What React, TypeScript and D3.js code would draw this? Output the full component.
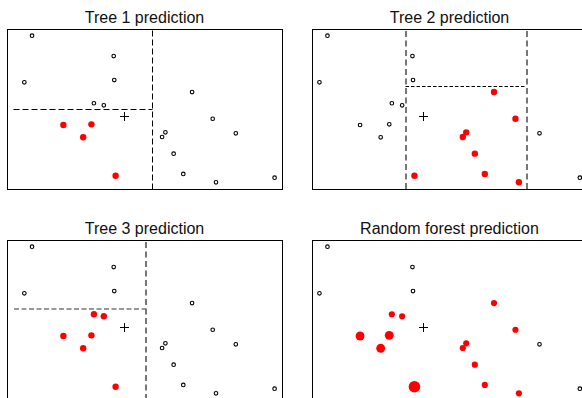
import React, { useEffect, useRef } from "react";
import * as d3 from "d3";

// training points (x, y)
const pointX = [0.91, 3.88, 0.63, 3.9, 3.16, 3.52, 6.73, 2.05, 3.07, 2.77, 3.95, 7.48, 8.32, 5.76, 5.64, 6.06, 6.41, 7.6, 9.73];
const pointY = [9.58, 8.31, 6.67, 6.81, 5.36, 5.23, 6.06, 4.0, 4.04, 3.23, 0.83, 4.39, 3.48, 3.54, 3.25, 2.21, 0.94, 0.42, 0.71];

// 1 = predicted as the red class by that tree
const tree1Class = [0, 0, 0, 0, 0, 0, 0, 1, 1, 1, 1, 0, 0, 0, 0, 0, 0, 0, 0];
const tree2Class = [0, 0, 0, 0, 0, 0, 1, 0, 0, 0, 1, 1, 0, 1, 1, 1, 1, 1, 0];
const tree3Class = [0, 0, 0, 0, 1, 1, 0, 1, 1, 1, 1, 0, 0, 0, 0, 0, 0, 0, 0];

// the query point (+)
const queryPoint = { x: 4.27, y: 4.56 };

// split segments of each tree, in data units ("kind" picks the line style)
const tree1Splits = [
  { x1: 5.28, y1: 0, x2: 5.28, y2: 10, kind: "black" },
  { x1: 0.25, y1: 4.94, x2: 5.28, y2: 4.94, kind: "black" },
];
const tree2Splits = [
  { x1: 3.65, y1: 0, x2: 3.65, y2: 10, kind: "grey" },
  { x1: 7.88, y1: 0, x2: 7.88, y2: 10, kind: "grey" },
  { x1: 3.65, y1: 6.39, x2: 7.88, y2: 6.39, kind: "fine" },
];
const tree3Splits = [
  { x1: 5.04, y1: 0, x2: 5.04, y2: 10, kind: "grey" },
  { x1: 0.25, y1: 5.67, x2: 5.04, y2: 5.67, kind: "greyThin" },
];

const titles = ["Tree 1 prediction", "Tree 2 prediction", "Tree 3 prediction", "Random forest prediction"];

const lineStyles: Record<string, { color: string; width: number; dash: string }> = {
  black: { color: "#000", width: 1, dash: "6,3" },
  fine: { color: "#000", width: 1, dash: "3.5,2" },
  grey: { color: "#777", width: 2, dash: "6,3.5" },
  greyThin: { color: "#777", width: 1.7, dash: "5,2.5" },
};

const App = () => {
  const ref = useRef<SVGSVGElement>(null);

  useEffect(() => {
    document.body.style.margin = "0";
    const svg = d3.select(ref.current);
    svg.selectAll("*").remove();

    const leftX = d3.scaleLinear().domain([0, 10]).range([7, 282]);
    const rightX = d3.scaleLinear().domain([0.37, 9.98]).range([312, 587]);
    const topY = d3.scaleLinear().domain([0, 10]).range([189, 29]);
    const bottomY = d3.scaleLinear().domain([0, 10]).range([400, 240]);

    const votes = pointX.map((_, i) => tree1Class[i] + tree2Class[i] + tree3Class[i]);
    const size = d3.scaleLinear().domain([1, 3]).range([3.1, 5.8]);

    const panels = [
      { title: titles[0], x: leftX, y: topY, cls: tree1Class, splits: tree1Splits, forest: false },
      { title: titles[1], x: rightX, y: topY, cls: tree2Class, splits: tree2Splits, forest: false },
      { title: titles[2], x: leftX, y: bottomY, cls: tree3Class, splits: tree3Splits, forest: false },
      { title: titles[3], x: rightX, y: bottomY, cls: votes, splits: [], forest: true },
    ];

    // snap a coordinate so a line of the given width lands on whole pixels
    const snap = (v: number, w: number) => (Math.round(w) % 2 === 1 ? Math.round(v - 0.5) + 0.5 : Math.round(v));

    panels.forEach((p) => {
      const g = svg.append("g");
      const [x0, x1] = p.x.range();
      const [yb, yt] = p.y.range();

      g.append("text")
        .attr("x", (x0 + x1) / 2)
        .attr("y", yt - 6.5)
        .attr("text-anchor", "middle")
        .attr("font-family", "Liberation Sans, Arial, sans-serif")
        .attr("font-size", 16)
        .attr("fill", "#111")
        .text(p.title);

      // split lines
      g.selectAll(".split")
        .data(p.splits)
        .enter()
        .append("line")
        .attr("x1", (d) => snap(p.x(d.x1), lineStyles[d.kind].width))
        .attr("x2", (d) => snap(p.x(d.x2), lineStyles[d.kind].width))
        .attr("y1", (d) => snap(p.y(d.y1), lineStyles[d.kind].width))
        .attr("y2", (d) => snap(p.y(d.y2), lineStyles[d.kind].width))
        .attr("stroke", (d) => lineStyles[d.kind].color)
        .attr("stroke-width", (d) => lineStyles[d.kind].width)
        .attr("stroke-dasharray", (d) => lineStyles[d.kind].dash);

      // points
      const idx = d3.range(pointX.length);
      g.selectAll(".pt")
        .data(idx)
        .enter()
        .append("circle")
        .attr("cx", (i) => p.x(pointX[i]))
        .attr("cy", (i) => p.y(pointY[i]))
        .attr("r", (i) => (p.cls[i] > 0 ? (p.forest ? size(p.cls[i]) : 3.2) : 1.8))
        .attr("fill", (i) => (p.cls[i] > 0 ? "#ff0000" : "#fff"))
        .attr("stroke", (i) => (p.cls[i] > 0 ? "none" : "#000"))
        .attr("stroke-width", 1.1);

      // query point
      const qx = snap(p.x(queryPoint.x), 1);
      const qy = snap(p.y(queryPoint.y), 1);
      g.append("path")
        .attr("d", `M${qx - 4.5},${qy}H${qx + 4.5}M${qx},${qy - 4.5}V${qy + 4.5}`)
        .attr("stroke", "#000")
        .attr("stroke-width", 1);

      // box
      g.append("rect")
        .attr("x", snap(x0, 1))
        .attr("y", snap(yt, 1))
        .attr("width", x1 - x0)
        .attr("height", yb - yt)
        .attr("fill", "none")
        .attr("stroke", "#000")
        .attr("stroke-width", 1);
    });
  }, []);

  return <svg ref={ref} width={582} height={398} style={{ display: "block", background: "#fff" }} />;
};

export default App;
